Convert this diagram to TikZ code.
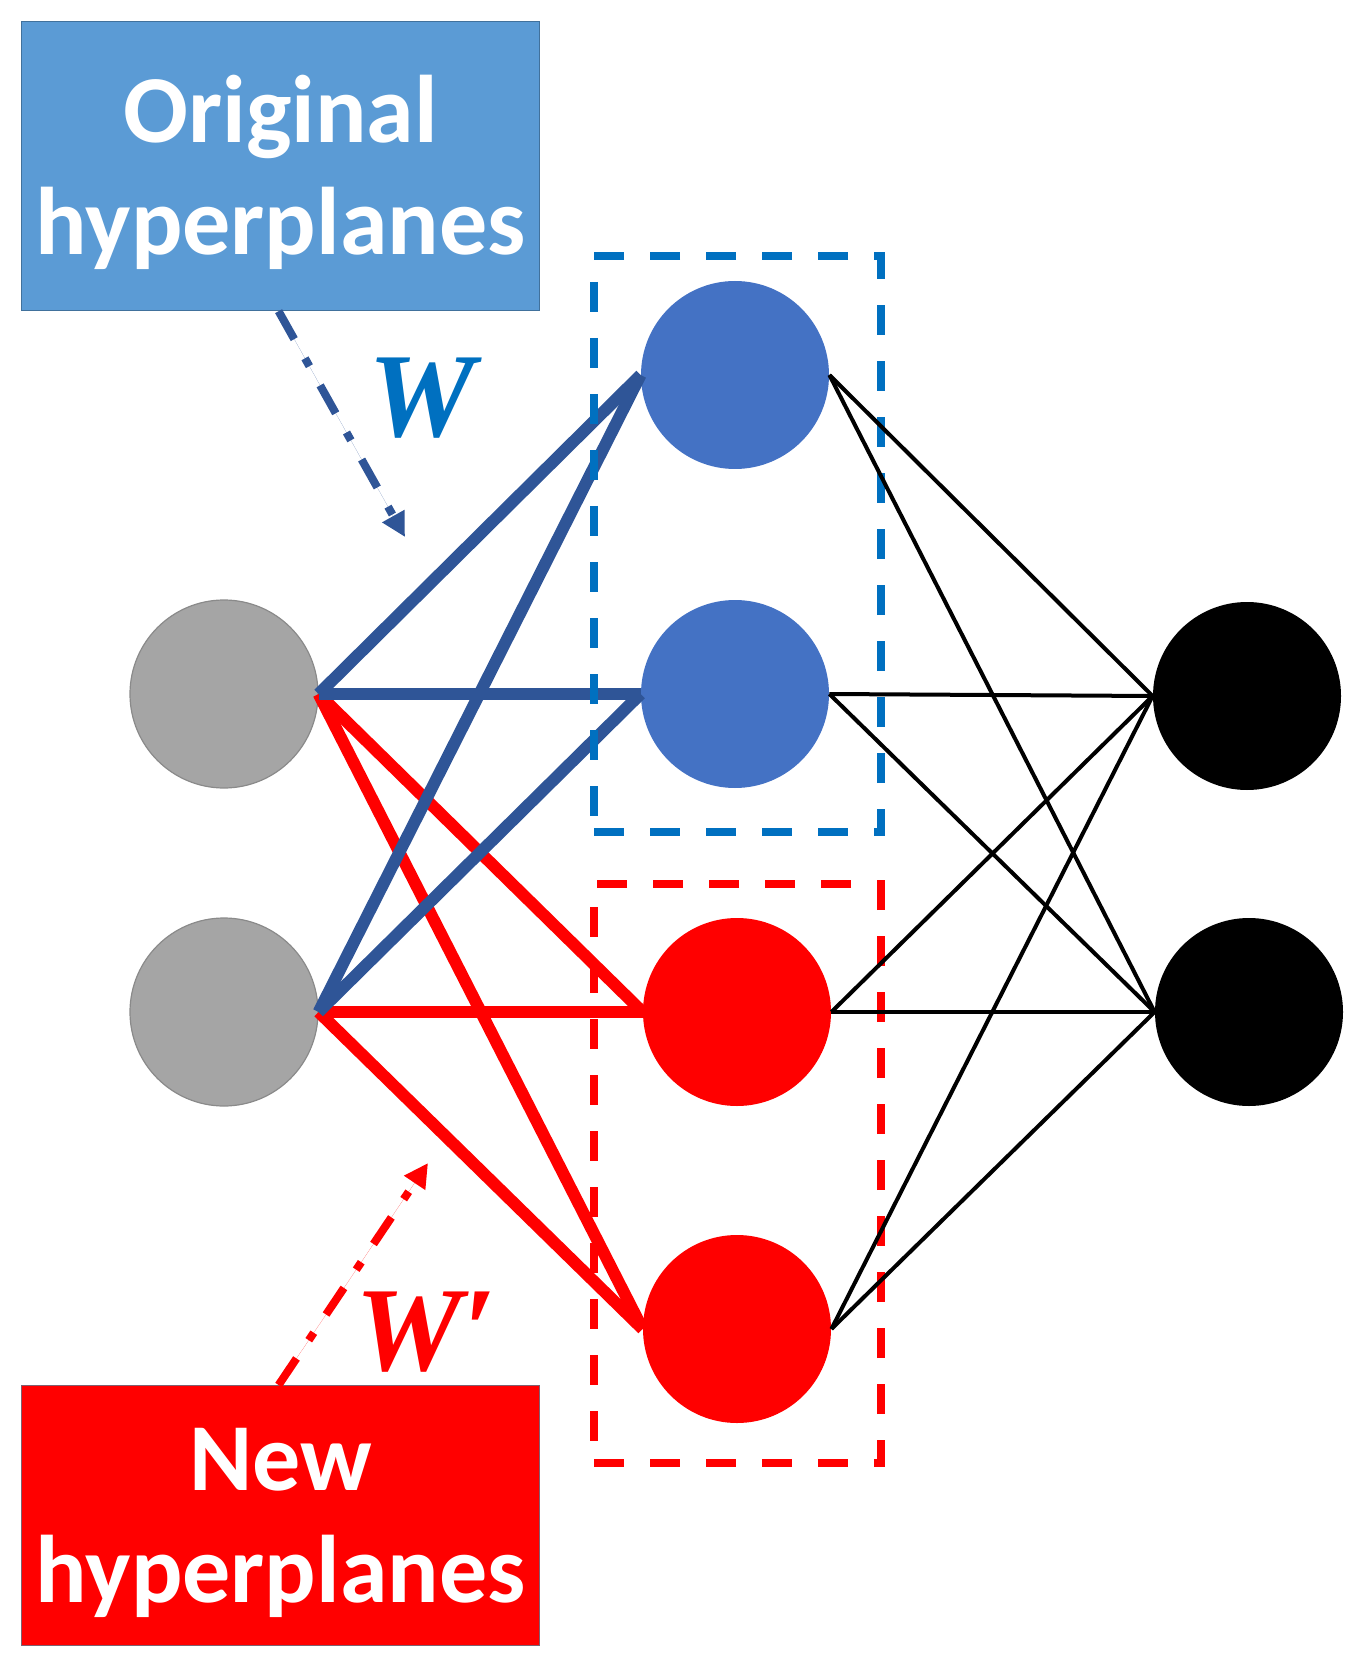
\documentclass[tikz,border=0pt]{standalone}
\usepackage{fontspec}
\setmainfont{Carlito}
\newfontfamily\wfont{Liberation Serif}
\usetikzlibrary{arrows.meta}
\definecolor{boxblue}{HTML}{5B9BD5}
\definecolor{boxblued}{HTML}{41719C}
\definecolor{boxred}{HTML}{FF0000}
\definecolor{boxredd}{HTML}{7F6070}
\definecolor{hidblue}{HTML}{4472C4}
\definecolor{lineblue}{HTML}{2F5597}
\definecolor{dashblue}{HTML}{0070C0}
\definecolor{ingray}{HTML}{A5A5A5}
\definecolor{ingrayd}{HTML}{8A8A8A}
\tikzset{
  neuron/.style={circle, minimum size=94pt, inner sep=0pt},
  labelbox/.style={rectangle, minimum width=259pt, minimum height=144.5pt, inner sep=0pt, line width=0.6pt},
  labeltext/.style={inner sep=0pt, text=white, font=\fontsize{48}{56}\selectfont\bfseries, align=center},
  bluew/.style={draw=lineblue, line width=6pt},
  redw/.style={draw=boxred, line width=6pt},
  blackw/.style={draw=black, line width=2pt},
  groupbox/.style={line width=4pt, dash pattern=on 15pt off 13pt},
  pointer/.style={line width=4pt, dash pattern=on 16pt off 11pt on 4.5pt off 11pt, -{Triangle[length=12pt,width=12pt]}},
  wlabel/.style={font=\wfont\fontsize{60}{60}\selectfont\bfseries\itshape, inner sep=0pt}
}
\begin{document}
\begin{tikzpicture}[x=0.5pt,y=-0.5pt]
\useasboundingbox (0,0) rectangle (1351,1657);
% label boxes
\node[labelbox, fill=boxblue, draw=boxblued, anchor=north west] (orig) at (21,21) {};
\node[labeltext, yshift=-3pt] (origtext) at (orig.center) {Original\\hyperplanes};
\node[labelbox, fill=boxred, draw=boxredd, minimum height=130pt, anchor=north west] (new) at (21,1385) {};
\node[labeltext, yshift=-3.5pt] (newtext) at (new.center) {New\\hyperplanes};
% neurons
\node[neuron, fill=ingray, draw=ingrayd, line width=0.6pt] (i1) at (224,694) {};
\node[neuron, fill=ingray, draw=ingrayd, line width=0.6pt] (i2) at (224,1012) {};
\node[neuron, fill=hidblue] (h1) at (735,375) {};
\node[neuron, fill=hidblue] (h2) at (735,694) {};
\node[neuron, fill=boxred] (h3) at (737,1012) {};
\node[neuron, fill=boxred] (h4) at (737,1329) {};
\node[neuron, fill=black] (o1) at (1247,696) {};
\node[neuron, fill=black] (o2) at (1249,1012) {};
% red connections
\draw[redw] (i1.east) -- (h3.west);
\draw[redw] (i1.east) -- (h4.west);
\draw[redw] (i2.east) -- (h3.west);
\draw[redw] (i2.east) -- (h4.west);
% blue connections
\draw[bluew] (i1.east) -- (h1.west);
\draw[bluew] (i1.east) -- (h2.west);
\draw[bluew] (i2.east) -- (h1.west);
\draw[bluew] (i2.east) -- (h2.west);
% group boxes
\node[draw=dashblue, groupbox, minimum width=143.5pt, minimum height=288pt, inner sep=0pt, anchor=north west] (gblue) at (590,252) {};
\node[draw=boxred, groupbox, minimum width=143.5pt, minimum height=289.5pt, inner sep=0pt, anchor=north west] (gred) at (590,880) {};
% black connections
\foreach \h in {h1,h2,h3,h4}{
  \draw[blackw] (\h.east) -- (o1.west);
  \draw[blackw] (\h.east) -- (o2.west);
}
% pointers
\coordinate (ptipb) at (405,537);
\coordinate (ptipr) at (428,1163);
\draw[pointer, draw=lineblue, fill=lineblue] ([xshift=-1pt]orig.south) -- (ptipb);
\draw[pointer, draw=boxred, fill=boxred] ([xshift=-1pt]new.north) -- (ptipr);
% W labels
\node[wlabel, text=dashblue] (w1) at (422,398) {W};
\node[wlabel, text=boxred] (w2) at (426,1332) {W′};
\end{tikzpicture}
\end{document}
